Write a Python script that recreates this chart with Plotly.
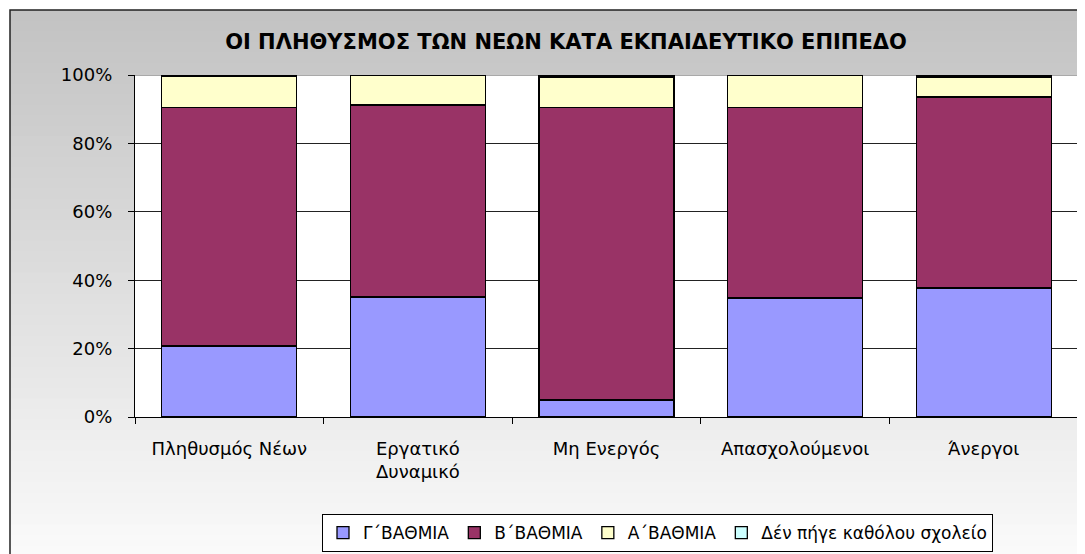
import plotly.graph_objects as go

categories = ["Πληθυσμός Νέων", "Εργατικό<br>Δυναμικό", "Μη Ενεργός", "Απασχολούμενοι", "Άνεργοι"]
series_names = ["Γ΄ΒΑΘΜΙΑ", "Β΄ΒΑΘΜΙΑ", "Α΄ΒΑΘΜΙΑ", "Δέν πήγε καθόλου σχολείο"]
g_vals = [20.8, 35.1, 5.0, 34.8, 37.7]
b_vals = [69.8, 56.1, 85.6, 55.8, 55.9]
a_vals = [8.9, 8.7, 8.8, 9.2, 5.8]
none_vals = [0.5, 0.1, 0.6, 0.2, 0.6]
y_ticks = [0, 20, 40, 60, 80, 100]
y_labels = ["0%", "20%", "40%", "60%", "80%", "100%"]

colors = ["#9999FF", "#993366", "#FFFFCC", "#CCFFFF"]

# page body has an 8px margin; design in reference pixels then offset
OFF = 8
W, H = 1085 - OFF, 554 - OFF
L, R, T, B = 135 - OFF, 1078 - OFF, 75 - OFF, 417 - OFF  # plot area pixel box (figure coords)

def px2x(px):  # px in reference coords
    return (px - OFF - L) / (R - L)

def px2y(py):
    return (B - (py - OFF)) / (B - T)

fig = go.Figure()
for name, vals, col in zip(series_names, [g_vals, b_vals, a_vals, none_vals], colors):
    fig.add_trace(go.Bar(
        x=categories, y=vals, name=name,
        marker=dict(color=col, line=dict(color="black", width=1.3)),
    ))

shapes = []
# gradient background strips
n = 60
y0, y1 = 10, 640
for i in range(n):
    ya = y0 + (y1 - y0) * i / n
    yb = y0 + (y1 - y0) * (i + 1) / n
    t = (ya + yb) / 2
    v = int(round(194 + (250 - 194) * min(1.0, (t - 10) / (554 - 10))))
    v = min(v, 252)
    shapes.append(dict(type="rect", xref="paper", yref="paper",
                       x0=px2x(10), x1=px2x(1300), y0=px2y(ya), y1=px2y(yb + 1),
                       fillcolor=f"rgb({v},{v},{v})", line=dict(width=0), layer="below"))
# outer chart border
shapes.append(dict(type="rect", xref="paper", yref="paper",
                   x0=px2x(10), x1=px2x(1300), y0=px2y(10), y1=px2y(700),
                   fillcolor="rgba(0,0,0,0)", line=dict(color="#222222", width=1.5), layer="below"))
# white plot area
shapes.append(dict(type="rect", xref="x", yref="y", x0=-0.5, x1=4.5, y0=0, y1=100,
                   fillcolor="white", line=dict(width=0), layer="below"))
# gray plot-area border top and right
shapes.append(dict(type="line", xref="x", yref="y", x0=-0.5, x1=4.5, y0=100, y1=100,
                   line=dict(color="#8c8c8c", width=1.5), layer="between"))
shapes.append(dict(type="line", xref="x", yref="y", x0=4.5, x1=4.5, y0=0, y1=100,
                   line=dict(color="#8c8c8c", width=1.5), layer="between"))

fig.update_layout(
    width=W, height=H,
    margin=dict(l=L, r=W - R, t=T, b=H - B, pad=0, autoexpand=False),
    barmode="stack", barnorm="percent", bargap=0.284,
    paper_bgcolor="white", plot_bgcolor="white",
    font=dict(family="DejaVu Sans, Arial, sans-serif", size=18, color="black"),
    title=dict(text="<b>ΟΙ ΠΛΗΘΥΣΜΟΣ ΤΩΝ ΝΕΩΝ ΚΑΤΑ ΕΚΠΑΙΔΕΥΤΙΚΟ ΕΠΙΠΕΔΟ</b>",
               x=(566 - OFF) / W, xanchor="center", y=1 - (42 - OFF) / H, yanchor="middle",
               font=dict(family="DejaVu Sans, Arial, sans-serif", size=21, color="black")),
    shapes=shapes,
    showlegend=True,
    legend=dict(orientation="h", x=px2x(322), y=px2y(514), xanchor="left", yanchor="top",
                bgcolor="white", bordercolor="black", borderwidth=1,
                font=dict(family="DejaVu Sans, Arial, sans-serif", size=17),
                itemwidth=30, traceorder="normal"),
    xaxis=dict(range=[-0.5, 4.5], showline=True, linecolor="black", linewidth=1.3, ticks="outside",
               tickson="boundaries", ticklen=6, tickcolor="black", showgrid=False,
               tickfont=dict(size=18), automargin=False, ticklabelstandoff=15),
    yaxis=dict(range=[0, 100], tickvals=y_ticks, ticktext=y_labels, showline=True,
               linecolor="black", linewidth=1.3, ticks="outside", ticklen=6, tickcolor="black",
               showgrid=True, gridcolor="#222222", gridwidth=1, zeroline=False,
               tickfont=dict(size=18), automargin=False, ticklabelstandoff=12),
)

fig.write_html("out.html")
